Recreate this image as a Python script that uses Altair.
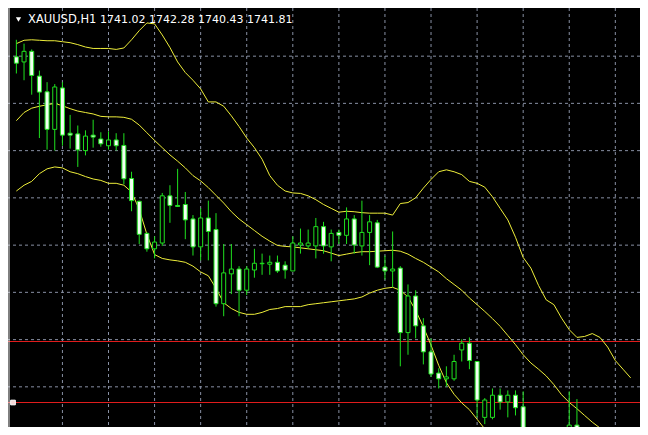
import altair as alt
import pandas as pd

# ---- candles (hour index, OHLC) ----
candle_idx = list(range(0, 67)) + [72, 73]
opens = [1779.93, 1779.40, 1780.50, 1777.93, 1776.30, 1772.40, 1776.70, 1772.00, 1771.93, 1770.20,
         1771.80, 1771.40, 1770.70, 1771.30, 1770.73, 1767.30, 1764.93, 1761.60, 1760.00, 1760.60,
         1765.50, 1764.50, 1764.60, 1763.10, 1760.20, 1763.20, 1762.00, 1754.30, 1757.40, 1757.90,
         1755.70, 1757.80, 1758.45, 1758.40, 1758.60, 1758.30, 1757.70, 1760.40, 1760.30, 1760.30,
         1762.30, 1760.20, 1761.70, 1761.40, 1763.10, 1760.30, 1761.70, 1762.70, 1758.10, 1757.70,
         1758.00, 1751.30, 1755.10, 1752.00, 1749.30, 1747.10, 1746.50, 1746.50, 1749.50, 1750.20,
         1748.30, 1742.50, 1742.50, 1744.80, 1744.10, 1744.80, 1743.60, 1740.50, 1741.70]
highs = [1781.70, 1781.30, 1780.70, 1778.50, 1777.30, 1777.10, 1777.30, 1773.90, 1772.80, 1772.30,
         1773.40, 1772.10, 1772.20, 1772.00, 1772.00, 1768.00, 1765.00, 1761.70, 1761.30, 1765.80,
         1766.60, 1768.30, 1765.90, 1763.50, 1764.20, 1765.00, 1763.70, 1760.50, 1760.50, 1758.20,
         1758.20, 1760.00, 1759.50, 1759.30, 1759.30, 1758.70, 1761.30, 1762.10, 1762.00, 1763.20,
         1762.80, 1762.00, 1762.00, 1764.30, 1763.50, 1765.00, 1763.50, 1763.00, 1759.30, 1761.80,
         1758.20, 1756.30, 1755.70, 1752.80, 1750.70, 1747.60, 1747.80, 1749.00, 1750.60, 1750.80,
         1748.30, 1744.50, 1745.50, 1745.50, 1745.30, 1745.30, 1745.20, 1745.20, 1744.40]
lows = [1778.20, 1777.50, 1776.00, 1771.50, 1770.30, 1770.20, 1770.70, 1770.40, 1768.50, 1769.70,
        1770.50, 1770.60, 1770.30, 1770.20, 1766.70, 1763.90, 1760.50, 1759.70, 1759.00, 1760.30,
        1762.70, 1764.40, 1761.00, 1759.30, 1758.80, 1758.80, 1754.00, 1753.00, 1755.30, 1753.00,
        1755.20, 1757.00, 1757.30, 1757.30, 1757.50, 1756.90, 1757.70, 1759.50, 1760.00, 1759.00,
        1759.50, 1758.70, 1760.50, 1760.50, 1759.50, 1759.30, 1758.30, 1758.00, 1756.80, 1756.00,
        1747.80, 1749.00, 1750.70, 1748.00, 1746.70, 1745.50, 1745.70, 1746.30, 1748.30, 1747.50,
        1742.50, 1741.80, 1742.30, 1743.30, 1742.50, 1742.70, 1740.50, 1740.20, 1740.50]
closes = [1779.27, 1780.50, 1778.00, 1776.27, 1772.40, 1776.80, 1771.80, 1771.80, 1770.27, 1771.70,
          1771.60, 1770.90, 1771.30, 1770.70, 1767.27, 1765.00, 1761.50, 1760.00, 1760.70, 1765.50,
          1764.50, 1764.40, 1763.00, 1760.20, 1763.20, 1761.80, 1754.30, 1757.50, 1757.90, 1755.70,
          1757.90, 1758.50, 1758.50, 1758.60, 1757.70, 1757.80, 1760.60, 1760.60, 1760.60, 1762.30,
          1760.30, 1761.60, 1761.40, 1763.10, 1760.40, 1761.70, 1762.80, 1758.10, 1757.70, 1757.90,
          1751.30, 1755.10, 1752.00, 1749.30, 1747.00, 1746.50, 1746.70, 1748.30, 1750.20, 1748.40,
          1744.30, 1744.30, 1744.80, 1744.10, 1744.80, 1743.50, 1741.00, 1741.70, 1741.00]

# ---- Bollinger bands ----
band_idx = list(range(0, 81))
upper = [1781.30, 1781.65, 1781.70, 1781.65, 1781.60, 1781.60, 1781.50, 1781.40, 1781.20, 1780.95,
         1780.80, 1780.80, 1780.80, 1780.70, 1780.85, 1781.70, 1782.65, 1783.45, 1783.35, 1782.20,
         1780.90, 1779.40, 1778.30, 1777.50, 1776.60, 1775.25, 1775.25, 1774.80, 1773.80, 1772.70,
         1771.50, 1770.50, 1769.30, 1767.60, 1766.60, 1766.00, 1765.80, 1765.75, 1765.50, 1765.10,
         1764.60, 1764.20, 1763.80, 1763.90, 1763.85, 1763.75, 1763.70, 1763.70, 1763.70, 1763.50,
         1764.70, 1764.80, 1765.30, 1766.30, 1767.20, 1768.00, 1768.20, 1768.00, 1767.70, 1767.00,
         1766.80, 1766.40, 1765.40, 1764.20, 1763.00, 1761.20, 1759.10, 1758.00, 1756.20, 1754.70,
         1754.20, 1752.80, 1751.60, 1750.80, 1750.90, 1751.20, 1750.80, 1749.80, 1748.40, 1747.50,
         1746.60]
middle = [1773.30, 1774.15, 1774.60, 1774.80, 1774.95, 1775.10, 1774.85, 1774.55, 1774.30, 1774.15,
          1774.00, 1773.75, 1773.70, 1773.70, 1773.65, 1773.45, 1772.85, 1772.05, 1771.25, 1770.50,
          1769.75, 1769.10, 1768.40, 1767.60, 1767.05, 1766.35, 1765.55, 1764.75, 1763.85, 1763.10,
          1762.50, 1761.90, 1761.30, 1760.80, 1760.35, 1760.25, 1760.20, 1760.10, 1760.00, 1759.90,
          1759.80, 1759.55, 1759.30, 1759.45, 1759.60, 1759.70, 1759.70, 1759.75, 1759.80, 1759.85,
          1759.75, 1759.45, 1759.00, 1758.60, 1758.10, 1757.60, 1756.90, 1756.30, 1755.70, 1754.90,
          1754.20, 1753.50, 1752.75, 1751.95, 1751.00, 1750.05, 1749.00, 1748.15, 1747.50, 1746.80,
          1745.90, 1744.85, 1744.05, 1743.40, 1742.70, 1742.00, 1741.40, 1740.80, 1740.20, 1739.50,
          1738.80]
lower_idx = list(range(0, 63))
lower = [1766.00, 1766.60, 1767.00, 1767.80, 1768.30, 1768.50, 1768.40, 1768.00, 1767.80, 1767.50,
         1767.25, 1767.10, 1766.80, 1766.80, 1766.60, 1765.90, 1764.10, 1761.50, 1759.40, 1759.00,
         1758.85, 1758.75, 1758.60, 1758.20, 1757.60, 1757.20, 1755.90, 1754.40, 1753.80, 1753.40,
         1753.20, 1753.20, 1753.40, 1753.70, 1753.80, 1754.00, 1754.00, 1754.00, 1754.20, 1754.30,
         1754.40, 1754.50, 1754.60, 1754.70, 1754.80, 1755.00, 1755.40, 1755.70, 1755.90, 1756.00,
         1755.70, 1755.00, 1753.60, 1751.90, 1750.00, 1747.90, 1746.10, 1744.90, 1744.00, 1743.30,
         1742.30, 1741.30, 1740.50]

# ---- grid and horizontal levels ----
grid_prices = [1780.00, 1775.10, 1770.19, 1765.29, 1760.38, 1755.48, 1750.57, 1745.67]
grid_hours = [6, 12, 18, 24, 30, 36, 42, 48, 54, 60, 66, 72, 78]
level_prices = [1750.376, 1744.043]
title_symbol = "XAUUSD,H1"
title_ohlc = "1741.02 1742.28 1740.43 1741.81"

candles = pd.DataFrame({"k": candle_idx, "open": opens, "high": highs,
                        "low": lows, "close": closes})
candles["dir"] = ["bear" if c < o else "bull" for o, c in zip(opens, closes)]

bands = pd.concat([
    pd.DataFrame({"k": band_idx, "v": upper, "band": "upper"}),
    pd.DataFrame({"k": band_idx, "v": middle, "band": "middle"}),
    pd.DataFrame({"k": lower_idx, "v": lower, "band": "lower"}),
])

W, H = 632, 419
xs = alt.Scale(domain=[-0.4375, 80.5625], nice=False, zero=False)
ys = alt.Scale(domain=[1741.5, 1785.0], nice=False, zero=False)
X = lambda f: alt.X(f, type="quantitative", scale=xs, axis=None)
Y = lambda f: alt.Y(f, type="quantitative", scale=ys, axis=None)

GREEN = "#1fe01f"
GRID = "#8890a4"

hgrid = alt.Chart(pd.DataFrame({"p": grid_prices})).mark_rule(
    color=GRID, strokeDash=[3, 3], strokeWidth=1).encode(y=Y("p"))
vgrid = alt.Chart(pd.DataFrame({"k": grid_hours})).mark_rule(
    color=GRID, strokeDash=[3, 3], strokeWidth=1).encode(x=X("k"))
levels = alt.Chart(pd.DataFrame({"p": level_prices})).mark_rule(
    color="#e01c1c", strokeWidth=1, opacity=1).encode(y=Y("p"))

band_lines = alt.Chart(bands).mark_line(
    color="#eeee3a", strokeWidth=1, clip=True).encode(
    x=X("k"), y=Y("v"), detail="band:N")

wicks = alt.Chart(candles).mark_rule(color=GREEN, strokeWidth=1, clip=True).encode(
    x=X("k"), y=Y("low"), y2="high")
bodies = alt.Chart(candles).mark_bar(size=4, stroke=GREEN, strokeWidth=1, clip=True).encode(
    x=X("k"), y=Y("open"), y2="close",
    fill=alt.Fill("dir:N", scale=alt.Scale(domain=["bear", "bull"],
                                           range=["#f2fff2", "#000000"]), legend=None))

frame = alt.Chart(pd.DataFrame({"k": [0]})).mark_rule(color="#ffffff", strokeWidth=1).encode(
    x=alt.value(1), y=alt.value(0), y2=alt.value(H))
anchor = alt.Chart(pd.DataFrame({"p": [level_prices[1]]})).mark_square(
    size=22, fill="#f3d6d6", stroke="#ffffff", strokeWidth=1, opacity=1).encode(
    x=alt.value(5), y=Y("p"))

tri = alt.Chart(pd.DataFrame({"k": [0]})).mark_point(
    shape="triangle-down", filled=True, color="#ffffff", size=28, opacity=1).encode(
    x=alt.value(10.5), y=alt.value(11.5))
t1 = alt.Chart(pd.DataFrame({"t": [title_symbol]})).mark_text(
    color="#ffffff", font="DejaVu Sans", fontSize=11.5, align="left", baseline="middle").encode(
    x=alt.value(20), y=alt.value(12), text="t:N")
t2 = alt.Chart(pd.DataFrame({"t": [title_ohlc]})).mark_text(
    color="#ffffff", font="DejaVu Sans", fontSize=11, align="left", baseline="middle").encode(
    x=alt.value(92), y=alt.value(12), text="t:N")

chart = alt.layer(hgrid, vgrid, levels, band_lines, wicks, bodies, frame, anchor, tri, t1, t2).properties(
    width=W, height=H, background="#000000", padding=0,
    autosize=alt.AutoSizeParams(type="none")
).configure_view(stroke=None, fill="#000000")

chart.save("out.html", embed_options={"renderer": "svg", "actions": False})
